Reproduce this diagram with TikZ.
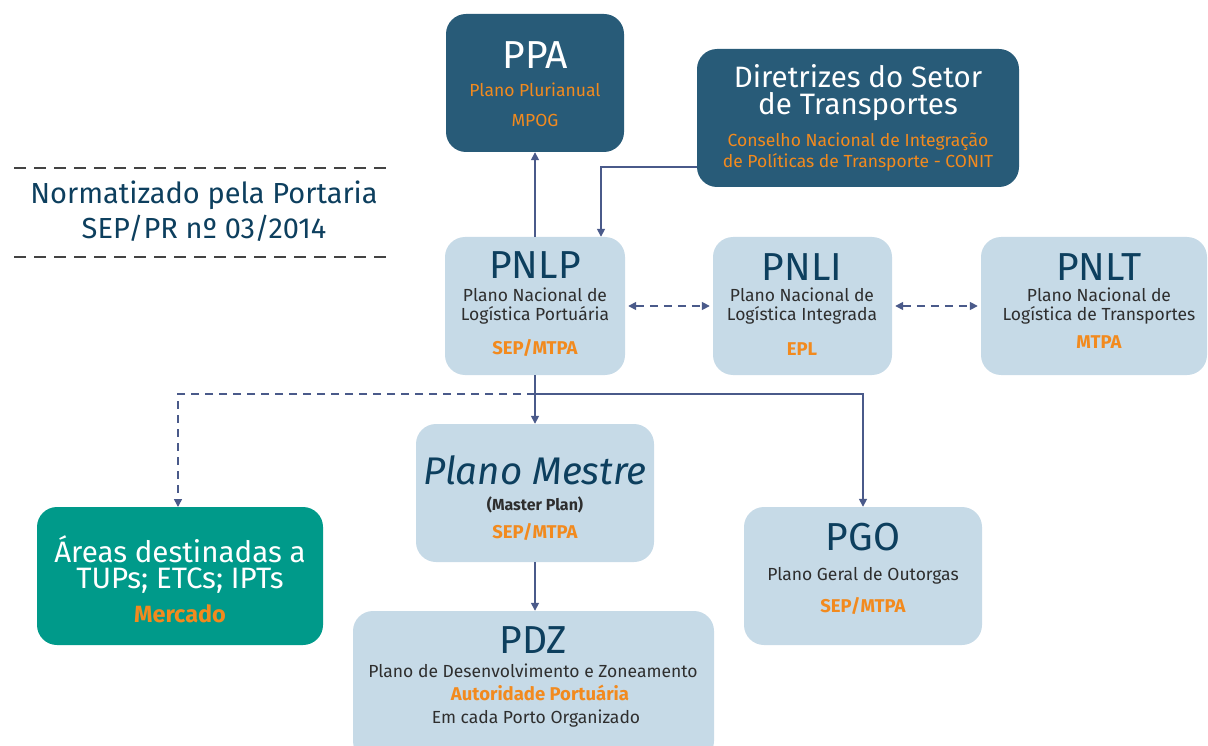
\documentclass[tikz,border=0pt]{standalone}
\usepackage{fontspec}
\setmainfont{Fira Sans}
\usetikzlibrary{arrows.meta}
\definecolor{darkbox}{HTML}{285B78}
\definecolor{lightbox}{HTML}{C6DAE7}
\definecolor{tealbox}{HTML}{009A8A}
\definecolor{orangetxt}{HTML}{F28A1E}
\definecolor{titletxt}{HTML}{0D3F5E}
\definecolor{arrowcol}{HTML}{4A5A8A}
\definecolor{bodytxt}{HTML}{2E2E2E}
\tikzset{
  boxbase/.style={rectangle, rounded corners=20pt, draw=none, inner sep=0pt},
  darkbx/.style={boxbase, fill=darkbox},
  lightbx/.style={boxbase, fill=lightbox},
  tealbx/.style={boxbase, fill=tealbox},
  txt/.style={inner sep=0pt, anchor=center, align=center},
  bigtitle/.style={txt, font=\fontsize{39}{41}\selectfont, text=titletxt},
  whitetitle/.style={txt, font=\fontsize{39}{41}\selectfont, text=white},
  midwhite/.style={txt, font=\fontsize{29.5}{31}\selectfont, text=white},
  sub/.style={txt, font=\fontsize{17.5}{19}\selectfont, text=bodytxt},
  orsub/.style={txt, font=\fontsize{17.5}{19}\selectfont, text=orangetxt},
  orbold/.style={txt, font=\fontsize{18.5}{20}\selectfont\bfseries, text=orangetxt},
  conn/.style={draw=arrowcol, line width=1.6pt, -{Triangle[width=8pt,length=8pt]}},
  dconn/.style={conn, dash pattern=on 8pt off 6pt},
}
\begin{document}
\begin{tikzpicture}[x=1pt,y=-1pt]
\useasboundingbox (0,0) rectangle (1208,746);
\clip (0,0) rectangle (1208,746);

% left note
\draw[bodytxt!90, line width=1.6pt, dash pattern=on 12pt off 8pt] (14,168) -- (392,168);
\draw[bodytxt!90, line width=1.6pt, dash pattern=on 12pt off 8pt] (14,257) -- (392,257);
\node[txt, font=\fontsize{29}{31}\selectfont, text=titletxt] (norm1) at (204,195) {Normatizado pela Portaria};
\node[txt, font=\fontsize{29}{31}\selectfont, text=titletxt] (norm2) at (204,228) {SEP/PR nº 03/2014};

% boxes
\node[darkbx, minimum width=178pt, minimum height=138pt] (ppa) at (535,83) {};
\node[darkbx, minimum width=322pt, minimum height=138pt] (dir) at (858,118) {};
\node[lightbx, minimum width=180pt, minimum height=138pt] (pnlp) at (535,306) {};
\node[lightbx, minimum width=179pt, minimum height=138pt] (pnli) at (802.5,306) {};
\node[lightbx, minimum width=226pt, minimum height=138pt] (pnlt) at (1094,306) {};
\node[lightbx, minimum width=238pt, minimum height=138pt] (pm) at (535,493) {};
\node[tealbx, minimum width=286pt, minimum height=138pt] (areas) at (180,576) {};
\node[lightbx, minimum width=238pt, minimum height=138pt] (pgo) at (863,576) {};
\node[lightbx, minimum width=361pt, minimum height=150pt] (pdz) at (533.5,686) {};

% texts
\node[whitetitle] (ppat) at (535,55) {PPA};
\node[orsub] (ppas) at (535,90) {Plano Plurianual};
\node[orsub] (ppao) at (535,120) {MPOG};

\node[midwhite] (dirt1) at (858,76) {Diretrizes do Setor};
\node[midwhite] (dirt2) at (858,107) {de Transportes};
\node[orsub] (dirs1) at (858,142) {Conselho Nacional de Integração};
\node[orsub] (dirs2) at (858,162) {de Políticas de Transporte - CONIT};

\node[bigtitle] (pnlpt) at (535,265) {PNLP};
\node[sub] (pnlps1) at (535,295) {Plano Nacional de};
\node[sub] (pnlps2) at (535,315) {Logística Portuária};
\node[orbold] (pnlpo) at (535,348) {SEP/MTPA};

\node[bigtitle] (pnlit) at (802,267) {PNLI};
\node[sub] (pnlis1) at (802,295) {Plano Nacional de};
\node[sub] (pnlis2) at (802,315) {Logística Integrada};
\node[orbold] (pnlio) at (802,349) {EPL};

\node[bigtitle] (pnltt) at (1099,267) {PNLT};
\node[sub] (pnlts1) at (1099,295) {Plano Nacional de};
\node[sub] (pnlts2) at (1099,315) {Logística de Transportes};
\node[orbold] (pnlto) at (1099,342) {MTPA};

\node[bigtitle, font=\fontsize{38.5}{40}\selectfont\itshape] (pmt) at (535,470) {Plano Mestre};
\node[sub, font=\fontsize{16}{18}\selectfont\bfseries] (pms) at (535,505) {(Master Plan)};
\node[orbold] (pmo) at (535,532) {SEP/MTPA};

\node[midwhite] (ar1) at (180,549) {Áreas destinadas a};
\node[midwhite] (ar2) at (180,581) {TUPs; ETCs; IPTs};
\node[txt, font=\fontsize{23.5}{25}\selectfont\bfseries, text=orangetxt] (aro) at (180,614) {Mercado};

\node[bigtitle] (pgot) at (863,537) {PGO};
\node[sub] (pgos) at (863,576) {Plano Geral de Outorgas};
\node[orbold] (pgoo) at (863,606) {SEP/MTPA};

\node[bigtitle] (pdzt) at (533,640) {PDZ};
\node[sub] (pdzs) at (533,671) {Plano de Desenvolvimento e Zoneamento};
\node[orbold] (pdzo) at (540,693) {Autoridade Portuária};
\node[sub] (pdzs2) at (536,719) {Em cada Porto Organizado};

% connectors
\coordinate (split) at (535,394);
\coordinate (dirturn) at (601,167);
\draw[conn] (pnlp.north) -- (ppa.south);
\draw[conn] (dir.west |- dirturn) -- (dirturn) -- (dirturn |- pnlp.north);
\draw[dconn, {Triangle[width=8pt,length=8pt]}-{Triangle[width=8pt,length=8pt]}] ([xshift=3pt]pnlp.east) -- ([xshift=-3pt]pnli.west);
\draw[dconn, {Triangle[width=8pt,length=8pt]}-{Triangle[width=8pt,length=8pt]}] ([xshift=3pt]pnli.east) -- ([xshift=-3pt]pnlt.west);
\draw[conn] (pnlp.south) -- (pm.north);
\draw[conn] (split) -- (split -| pgo.north) -- (pgo.north);
\draw[dconn] (split) -- (178,394) -- (178,507);
\draw[conn] (pm.south) -- (pm.south |- pdz.north);
\end{tikzpicture}
\end{document}
